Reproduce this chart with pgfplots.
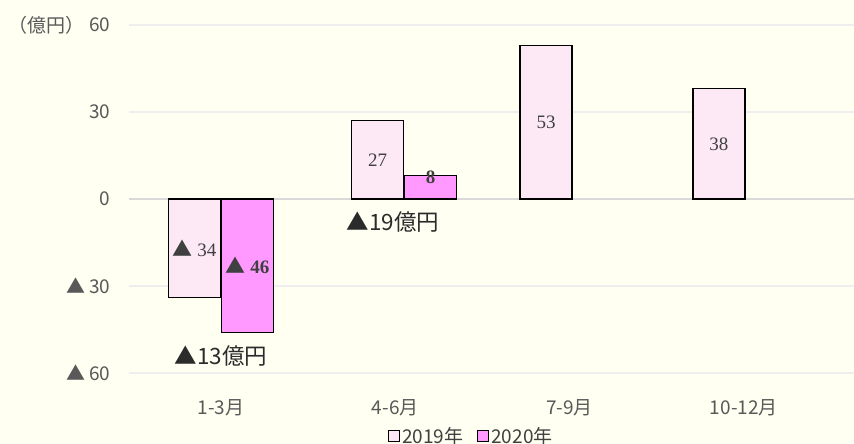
\documentclass[border=0pt]{standalone}
\usepackage{pgfplots}
\pgfplotsset{compat=1.18}
\usepackage{fontspec}
\setmainfont{Noto Sans CJK JP}
\newfontfamily\cjk{Noto Sans CJK JP}
\newfontfamily\serif{Liberation Serif}
\definecolor{bg}{HTML}{FFFFF2}
\definecolor{pinkA}{HTML}{FDE8F5}
\definecolor{pinkB}{HTML}{FF99FF}
\definecolor{tickgray}{HTML}{595959}
\definecolor{labgray}{HTML}{404040}
\definecolor{anngray}{HTML}{2B2B2B}
\definecolor{gridc}{HTML}{EEEEEE}
\definecolor{zeroc}{HTML}{D9D9D9}
\begin{document}
\begin{tikzpicture}[x=1pt,y=1pt]
\path[fill=bg, use as bounding box] (0,0) rectangle (854,444);
\node[anchor=west, text=tickgray, font=\fontsize{19pt}{22pt}\selectfont, inner sep=0pt] at (8,419) {（億円）};
\begin{axis}[
  at={(129pt,71pt)}, anchor=south west,
  scale only axis, width=725pt, height=348pt,
  xmin=-0.528, xmax=3.632, ymin=-60, ymax=60,
  ytick={-60,-30,0,30,60},
  yticklabels={▲ 60,▲ 30,0,30,60},
  xtick={0,1,2,3}, xticklabels={1-3月,4-6月,7-9月,10-12月},
  axis line style={draw=none}, tick style={draw=none},
  ymajorgrids, grid style={gridc, line width=1.2pt},
  extra y ticks={0}, extra y tick labels={},
  extra y tick style={grid style={zeroc, line width=1.8pt}},
  yticklabel style={font=\fontsize{19pt}{22pt}\selectfont, text=tickgray, xshift=-15pt},
  xticklabel style={font=\fontsize{19pt}{22pt}\selectfont, text=tickgray, yshift=-23pt},
  legend style={at={(0.472,-0.181)}, anchor=center, draw=none, fill=none,
    font=\fontsize{19pt}{22pt}\selectfont, text=labgray,
    /tikz/every even column/.append style={column sep=12pt}},
  legend columns=2,
  clip=false,
]
\addplot[ybar, bar width=0.298, bar shift=0pt, draw=black, line width=1.3pt, fill=pinkA,
  legend image code/.code={\draw[black, fill=pinkA, line width=1.2pt] (0pt,-5.5pt) rectangle (11pt,5.5pt);}]
  coordinates {(-0.152,-34) (0.898,27) (1.865,53) (2.857,38)};
\addlegendentry{2019年}
\addplot[ybar, bar width=0.298, bar shift=0pt, draw=black, line width=1.3pt, fill=pinkB,
  legend image code/.code={\draw[black, fill=pinkB, line width=1.2pt] (0pt,-5.5pt) rectangle (11pt,5.5pt);}]
  coordinates {(0.152,-46) (1.203,8)};
\addlegendentry{2020年}
% data labels
\node[font=\serif\fontsize{19pt}{20pt}\selectfont, text=labgray] at (axis cs:-0.152,-17) {{\cjk\fontsize{20pt}{20pt}\selectfont ▲} 34};
\node[font=\serif\bfseries\fontsize{19pt}{20pt}\selectfont, text=labgray] at (axis cs:0.152,-23) {{\cjk\mdseries\fontsize{20pt}{20pt}\selectfont ▲} 46};
\node[font=\serif\fontsize{19pt}{20pt}\selectfont, text=labgray] at (axis cs:0.898,13.5) {27};
\node[font=\serif\bfseries\fontsize{19pt}{20pt}\selectfont, text=labgray] at (axis cs:1.203,7.5) {8};
\node[font=\serif\fontsize{19pt}{20pt}\selectfont, text=labgray] at (axis cs:1.865,26.5) {53};
\node[font=\serif\fontsize{19pt}{20pt}\selectfont, text=labgray] at (axis cs:2.857,19) {38};
% annotations
\node[font=\fontsize{22.5pt}{26pt}\selectfont, text=anngray] at (axis cs:0,-54) {▲13億円};
\node[font=\fontsize{22.5pt}{26pt}\selectfont, text=anngray] at (axis cs:0.987,-8) {▲19億円};
\end{axis}
\end{tikzpicture}
\end{document}
